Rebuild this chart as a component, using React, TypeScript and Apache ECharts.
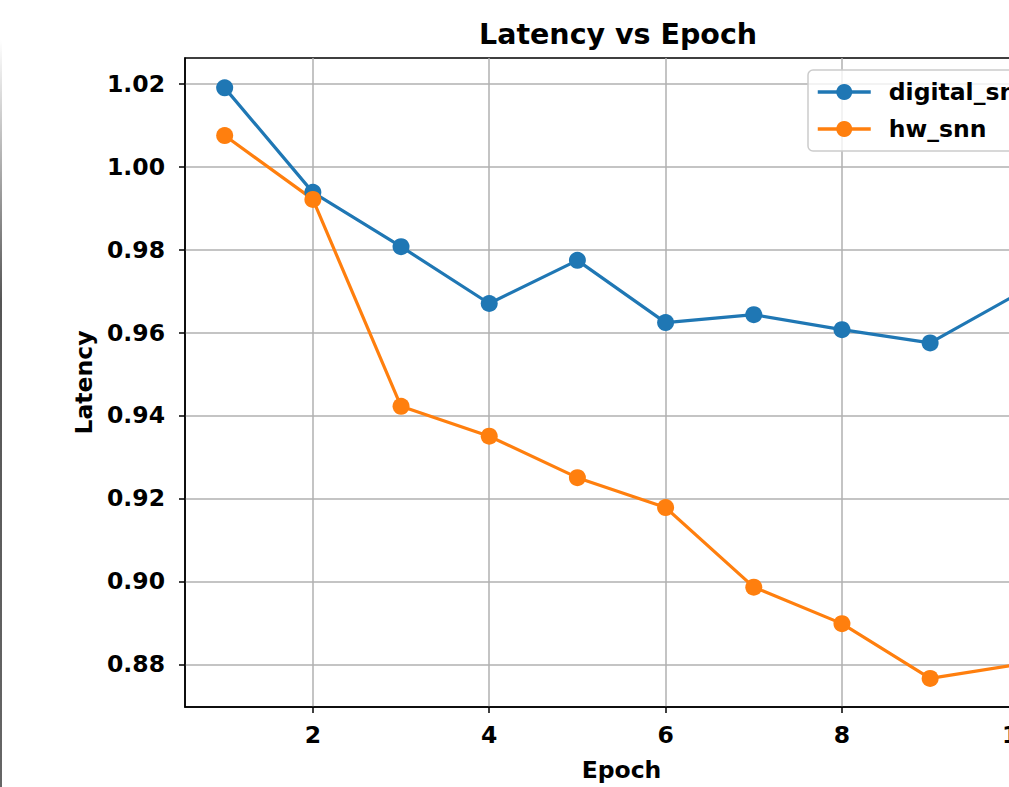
import React, { useEffect, useRef } from "react";
import * as echarts from "echarts";

const epochs = [1, 2, 3, 4, 5, 6, 7, 8, 9, 10];
const digitalSnn = [1.019, 0.9938, 0.9807, 0.967, 0.9774, 0.9624, 0.9643, 0.9607, 0.9575, 0.9694];
const hwSnn = [1.0075, 0.9921, 0.9422, 0.935, 0.925, 0.9178, 0.8986, 0.8898, 0.8766, 0.88];
const xTicks = [2, 4, 6, 8, 10];
const yTicks = [0.88, 0.9, 0.92, 0.94, 0.96, 0.98, 1.0, 1.02];

const FONT = "DejaVu Sans";

export default function App() {
  const ref = useRef<HTMLDivElement>(null);
  useEffect(() => {
    if (!ref.current) return;
    const chart = echarts.init(ref.current, null, { renderer: "svg" });
    const toPairs = (ys: number[]) => epochs.map((e, i) => [e, ys[i]]);
    chart.setOption({
      animation: false,
      backgroundColor: "#ffffff",
      title: {
        text: "Latency vs Epoch",
        left: 479,
        top: 20,
        padding: 0,
        textStyle: { fontFamily: FONT, fontWeight: "bold", fontSize: 28.5, color: "#000" },
      },
      grid: {
        left: 185,
        top: 58,
        right: 42,
        bottom: 77,
        show: true,
        borderColor: "#000",
        borderWidth: 1.5,
        backgroundColor: "transparent",
      },
      legend: {
        left: 808,
        top: 70,
        orient: "vertical",
        padding: [9, 20, 9, 8],
        itemWidth: 53,
        itemHeight: 20,
        itemGap: 11,
        backgroundColor: "rgba(255,255,255,0.8)",
        borderColor: "#cccccc",
        borderWidth: 1.5,
        borderRadius: 5,
        lineStyle: { width: 3.5 },
        textStyle: {
          fontFamily: FONT,
          fontWeight: "bold",
          fontSize: 23.5,
          color: "#000",
          lineHeight: 26,
          padding: [0, 0, 0, 13],
        },
        data: ["digital_snn", "hw_snn"],
      },
      graphic: [
        {
          type: "rect",
          shape: { x: 0, y: 40, width: 2, height: 747 },
          style: {
            fill: new echarts.graphic.LinearGradient(0, 0, 0, 1, [
              { offset: 0, color: "#ffffff" },
              { offset: 0.35, color: "#555555" },
              { offset: 1, color: "#666666" },
            ]),
          },
        },
      ],
      xAxis: {
        type: "value",
        min: 0.55,
        max: 10.45,
        name: "Epoch",
        nameLocation: "middle",
        nameGap: 51,
        nameTextStyle: { fontFamily: FONT, fontWeight: "bold", fontSize: 23.5, color: "#000" },
        axisLine: { show: true, lineStyle: { color: "#000", width: 1.5 } },
        axisTick: { show: true, inside: false, length: 6, customValues: xTicks, lineStyle: { color: "#000", width: 1.5 } },
        axisLabel: {
          customValues: xTicks,
          margin: 16,
          fontFamily: FONT,
          fontWeight: "bold",
          fontSize: 23.5,
          color: "#000",
        },
        splitLine: { show: true, lineStyle: { color: "#b0b0b0", width: 1.5 } },
      },
      yAxis: {
        type: "value",
        min: 0.8697,
        max: 1.0262,
        name: "Latency",
        nameLocation: "middle",
        nameGap: 86,
        nameTextStyle: { fontFamily: FONT, fontWeight: "bold", fontSize: 23.5, color: "#000" },
        axisLine: { show: true, lineStyle: { color: "#000", width: 1.5 } },
        axisTick: { show: true, inside: false, length: 6, customValues: yTicks, lineStyle: { color: "#000", width: 1.5 } },
        axisLabel: {
          customValues: yTicks,
          margin: 20,
          formatter: (v: number) => v.toFixed(2),
          fontFamily: FONT,
          fontWeight: "bold",
          fontSize: 23.5,
          color: "#000",
        },
        splitLine: { show: true, lineStyle: { color: "#b0b0b0", width: 1.5 } },
      },
      series: [
        {
          name: "digital_snn",
          type: "line",
          data: toPairs(digitalSnn),
          symbol: "circle",
          symbolSize: 17,
          color: "#1f77b4",
          lineStyle: { width: 3.2, color: "#1f77b4" },
          itemStyle: { color: "#1f77b4" },
        },
        {
          name: "hw_snn",
          type: "line",
          data: toPairs(hwSnn),
          symbol: "circle",
          symbolSize: 17,
          color: "#ff7f0e",
          lineStyle: { width: 3.2, color: "#ff7f0e" },
          itemStyle: { color: "#ff7f0e" },
        },
      ],
    });
    return () => chart.dispose();
  }, []);

  return (
    <div
      style={{
        position: "fixed",
        left: 0,
        top: 0,
        width: 1009,
        height: 787,
        overflow: "hidden",
        background: "#fff",
      }}
    >
      <div ref={ref} style={{ width: 1100, height: 787 }} />
    </div>
  );
}
